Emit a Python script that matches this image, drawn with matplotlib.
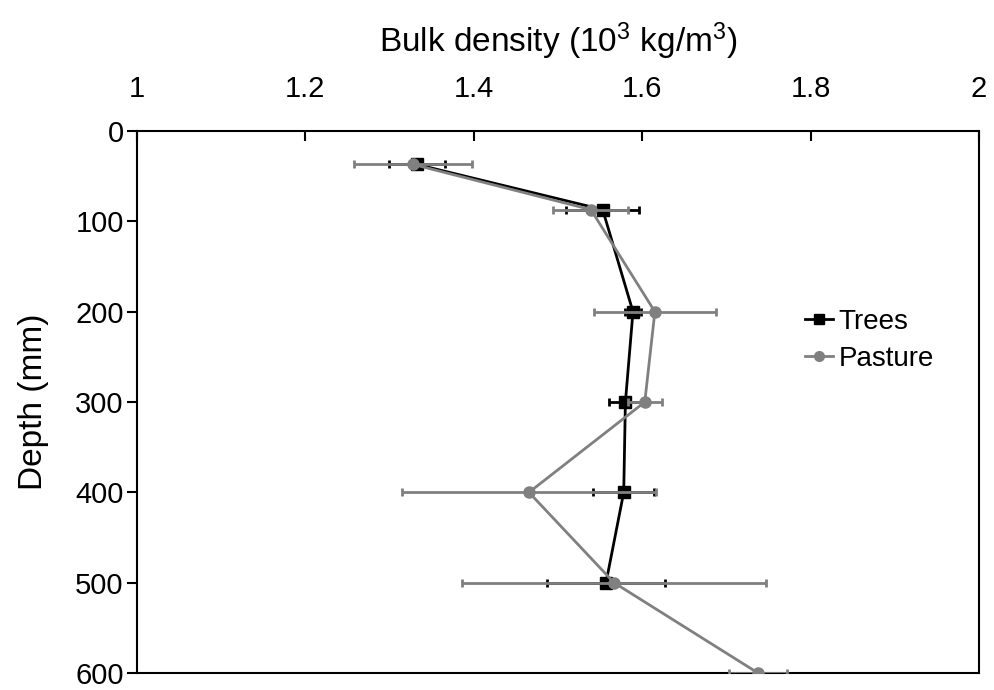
import matplotlib
matplotlib.use("Agg")
from matplotlib import pyplot as plt
from matplotlib.lines import Line2D

plt.rcParams['font.family'] = ['Liberation Sans', 'DejaVu Sans']
plt.rcParams['mathtext.default'] = 'regular'

# data
trees_depth = [37, 87, 200, 300, 400, 500]
trees_density = [1.3325, 1.553, 1.589, 1.580, 1.578, 1.557]
trees_err = [0.033, 0.043, 0.010, 0.020, 0.036, 0.070]

pasture_depth = [37, 87, 200, 300, 400, 500, 600]
pasture_density = [1.328, 1.539, 1.615, 1.603, 1.4655, 1.5665, 1.7375]
pasture_err = [0.070, 0.0445, 0.0725, 0.020, 0.151, 0.180, 0.034]

x_ticks = [1, 1.2, 1.4, 1.6, 1.8, 2]
x_tick_labels = ["1", "1.2", "1.4", "1.6", "1.8", "2"]
y_ticks = [0, 100, 200, 300, 400, 500, 600]

fig = plt.figure(figsize=(9.94, 6.9), dpi=100)
ax = fig.add_axes([0.1378, 0.0246, 0.8472, 0.7855])

ax.errorbar(trees_density, trees_depth, xerr=trees_err, color='black',
            marker='s', markersize=8, linewidth=2, elinewidth=2,
            capsize=3, capthick=2, zorder=3)
ax.errorbar(pasture_density, pasture_depth, xerr=pasture_err, color='#808080',
            marker='o', markersize=8, linewidth=2, elinewidth=2,
            capsize=3, capthick=2, zorder=4)

ax.set_xlim(1, 2)
ax.set_ylim(600, 0)
ax.xaxis.tick_top()
ax.xaxis.set_label_position('top')
ax.set_xticks(x_ticks)
ax.set_xticklabels(x_tick_labels)
ax.set_yticks(y_ticks)
ax.tick_params(axis='x', direction='in', length=7, width=1.5, labelsize=21, pad=20)
ax.tick_params(axis='y', direction='out', length=7, width=1.5, labelsize=21, pad=2.5)
ax.set_xlabel('Bulk density (10$^3$ kg/m$^3$)', fontsize=24, labelpad=17)
ax.set_ylabel('Depth (mm)', fontsize=24, labelpad=19)
for s in ax.spines.values():
    s.set_linewidth(1.5)

handles = [Line2D([], [], color='black', marker='s', markersize=7, linewidth=2),
           Line2D([], [], color='#808080', marker='o', markersize=7, linewidth=2)]
ax.legend(handles, ['Trees', 'Pasture'], loc='upper left',
          bbox_to_anchor=(0.780, 0.692), frameon=False, fontsize=20,
          handlelength=1.0, handletextpad=0.2, labelspacing=0.4,
          borderaxespad=0)

plt.savefig('out.png', dpi=100)
